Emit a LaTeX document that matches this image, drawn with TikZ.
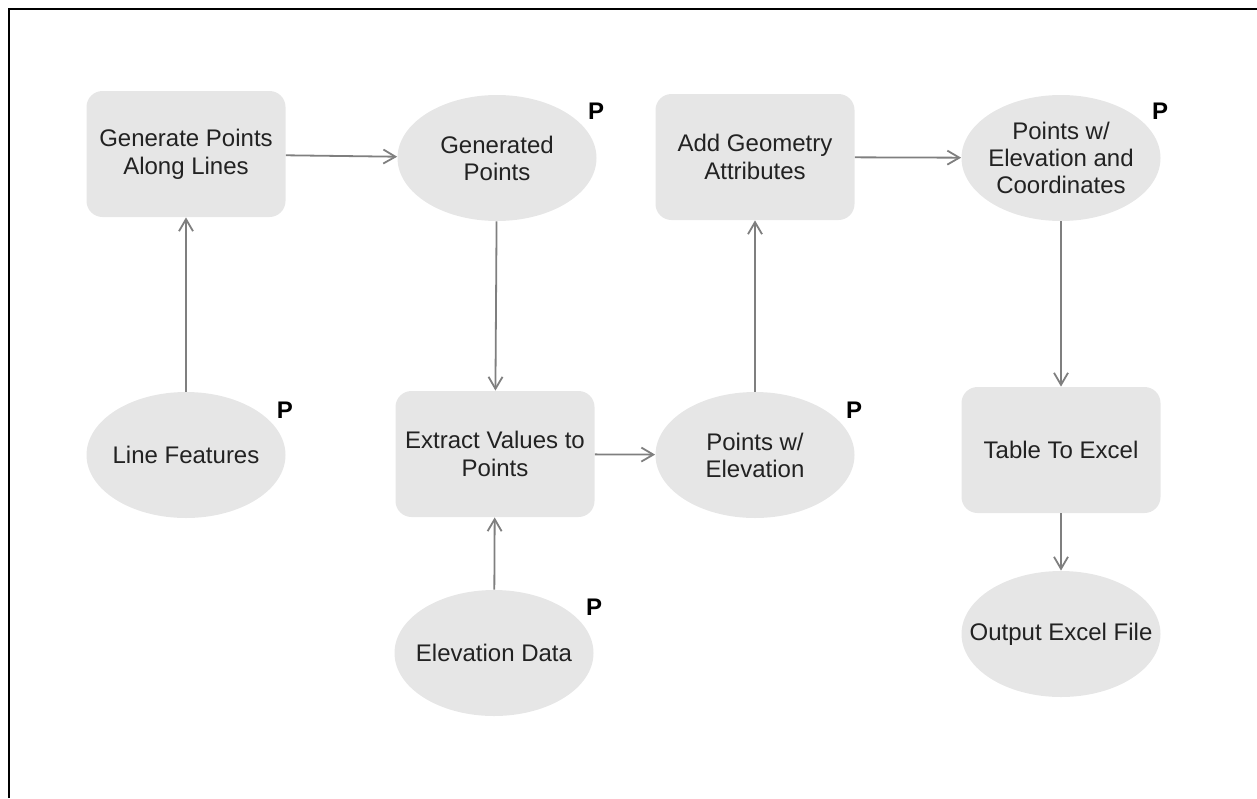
\documentclass[tikz,border=0pt]{standalone}
\usepackage{fontspec}
\setmainfont{Liberation Sans}
\usetikzlibrary{arrows.meta,shapes.geometric}

\definecolor{boxgray}{HTML}{E6E6E6}
\definecolor{linegray}{HTML}{7F7F7F}
\definecolor{textgray}{HTML}{222222}

\tikzset{
  proc/.style={draw=none, fill=boxgray, rounded corners=8pt, minimum width=99.5pt,
    minimum height=63pt, align=center, text=textgray, font=\fontsize{12}{14}\selectfont},
  data/.style={ellipse, draw=none, fill=boxgray, minimum width=99.5pt,
    minimum height=63pt, inner xsep=-12pt, inner ysep=0pt, align=center, text=textgray,
    font=\fontsize{12}{13.5}\selectfont},
  plabel/.style={font=\bfseries\fontsize{12}{12}\selectfont, text=black},
  flow/.style={draw=linegray, line width=0.9pt, -{Straight Barb[length=6pt, width=7pt]}}
}

\begin{document}
\begin{tikzpicture}[x=0.5pt, y=-0.5pt]
\useasboundingbox (0,0) rectangle (1257,798);
% frame (top and left edges only)
\draw[line width=1.1pt] (9,798) -- (9,9) -- (1257,9);

% top row
\node[proc] (gen) at (186,154) {Generate Points\\Along Lines};
\node[data] (genpts) at (497,158) {Generated\\Points};
\node[proc] (addgeo) at (755,157) {Add Geometry\\Attributes};
\node[data] (ptscoord) at (1061,158) {Points w/\\Elevation and\\Coordinates};

% middle row
\node[data] (linef) at (186,455) {Line Features};
\node[proc] (extract) at (495,454) {Extract Values to\\Points};
\node[data] (ptselev) at (755,455) {Points w/\\Elevation};
\node[proc] (toexcel) at (1061,450) {Table To Excel};

% bottom row
\node[data] (elevdata) at (494,653) {Elevation Data};
\node[data] (outfile) at (1061,634) {Output Excel File};

% P markers
\node[plabel] (p1) at (596,111) {P};
\node[plabel] (p2) at (1160,111) {P};
\node[plabel] (p3) at (285,410) {P};
\node[plabel] (p4) at (854,410) {P};
\node[plabel] (p5) at (594,607) {P};

% connectors
\draw[flow] (linef) -- (gen);
\draw[flow] (gen) -- (genpts);
\draw[flow] (genpts) -- (extract);
\draw[flow] (elevdata) -- (extract);
\draw[flow] (extract) -- (ptselev);
\draw[flow] (ptselev) -- (addgeo);
\draw[flow] (addgeo) -- (ptscoord);
\draw[flow] (ptscoord) -- (toexcel);
\draw[flow] (toexcel) -- (outfile);
\end{tikzpicture}
\end{document}
